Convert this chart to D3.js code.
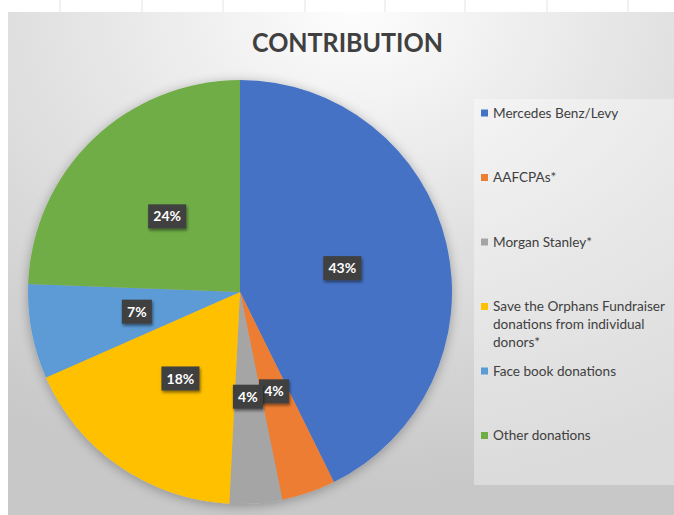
<!DOCTYPE html>
<html>
<head>
<meta charset="utf-8">
<script src="https://cdn.jsdelivr.net/npm/d3@7"></script>
<style>
  body { margin: 0; background: #fff; }
  svg { display: block; font-family: Lato, "Open Sans", sans-serif; }
</style>
</head>
<body>
<svg id="chart"></svg>
<script>
// chart data
const categories = ['Mercedes Benz/Levy', 'AAFCPAs*', 'Morgan Stanley*',
  'Save the Orphans Fundraiser donations from individual donors*',
  'Face book donations', 'Other donations'];
const values = [42.7, 4.1, 4.0, 17.6, 7.2, 24.4];
const labels = ['43%', '4%', '4%', '18%', '7%', '24%'];
const legendLines = [['Mercedes Benz/Levy'], ['AAFCPAs*'], ['Morgan Stanley*'],
  ['Save the Orphans Fundraiser', 'donations from individual', 'donors*'],
  ['Face book donations'], ['Other donations']];
const colors = ['#4472C4', '#ED7D31', '#A5A5A5', '#FFC000', '#5B9BD5', '#70AD47'];

const config = {
  width: 674, height: 515,
  area: {x: 8, y: 12},
  cx: 240, cy: 292, r: 212,
  legend: {x: 474, y: 99, w: 200, h: 386, slot: 64.5}
};

const svg = d3.select('#chart')
    .attr('width', config.width)
    .attr('height', config.height);

const defs = svg.append('defs');

// background gradient like the Excel chart area
const grad = defs.append('radialGradient')
    .attr('id', 'bg')
    .attr('cx', '52%').attr('cy', '0%').attr('r', '95%');
grad.append('stop').attr('offset', '0%').attr('stop-color', '#fdfdfd');
grad.append('stop').attr('offset', '45%').attr('stop-color', '#e4e4e4');
grad.append('stop').attr('offset', '100%').attr('stop-color', '#c8c8c8');

const shadow = defs.append('filter').attr('id', 'shadow')
    .attr('x', '-20%').attr('y', '-20%').attr('width', '140%').attr('height', '140%');
shadow.append('feGaussianBlur').attr('in', 'SourceAlpha').attr('stdDeviation', 6);
shadow.append('feOffset').attr('dx', 0).attr('dy', 2).attr('result', 'b');
shadow.append('feComponentTransfer').append('feFuncA').attr('type', 'linear').attr('slope', 0.3);
const merge = shadow.append('feMerge');
merge.append('feMergeNode');
merge.append('feMergeNode').attr('in', 'SourceGraphic');

const boxShadow = defs.append('filter').attr('id', 'boxShadow')
    .attr('x', '-30%').attr('y', '-30%').attr('width', '160%').attr('height', '160%');
boxShadow.append('feGaussianBlur').attr('in', 'SourceAlpha').attr('stdDeviation', 1.5);
boxShadow.append('feOffset').attr('dx', 1).attr('dy', 2);
boxShadow.append('feComponentTransfer').append('feFuncA').attr('type', 'linear').attr('slope', 0.5);
const merge2 = boxShadow.append('feMerge');
merge2.append('feMergeNode');
merge2.append('feMergeNode').attr('in', 'SourceGraphic');

// spreadsheet gridlines peeking above the chart
svg.append('g')
  .selectAll('line')
  .data([60, 142, 223, 305, 385, 465, 547, 628])
  .join('line')
    .attr('x1', d => d).attr('x2', d => d)
    .attr('y1', 0).attr('y2', config.area.y)
    .attr('stroke', '#e4e4e4');

svg.append('rect')
    .attr('x', config.area.x).attr('y', config.area.y)
    .attr('width', config.width - config.area.x)
    .attr('height', config.height - config.area.y)
    .attr('fill', 'url(#bg)');

// title
svg.append('text')
    .attr('x', 252).attr('y', 52)
    .attr('font-size', 27)
    .attr('font-weight', 'bold')
    .attr('fill', '#404040')
    .attr('textLength', 191)
    .attr('lengthAdjust', 'spacingAndGlyphs')
    .text('CONTRIBUTION');

// pie
const pie = d3.pie().sort(null).value(d => d);
const arcs = pie(values);
const arc = d3.arc().innerRadius(0).outerRadius(config.r);
const labelArc = d3.arc().innerRadius(105).outerRadius(105);

const chart = svg.append('g')
    .attr('transform', `translate(${config.cx},${config.cy})`);

chart.append('g')
    .attr('filter', 'url(#shadow)')
  .selectAll('path')
  .data(arcs)
  .join('path')
    .attr('d', arc)
    .attr('fill', (d, i) => colors[i]);

const lbl = chart.selectAll('.lbl')
  .data(arcs)
  .join('g')
    .attr('class', 'lbl')
    .attr('transform', d => `translate(${labelArc.centroid(d)})`);

lbl.append('rect')
    .attr('x', (d, i) => labels[i].length > 2 ? -19 : -15)
    .attr('y', -12)
    .attr('width', (d, i) => labels[i].length > 2 ? 38 : 30)
    .attr('height', 24)
    .attr('fill', '#404040')
    .attr('filter', 'url(#boxShadow)');

lbl.append('text')
    .attr('text-anchor', 'middle')
    .attr('dy', '0.36em')
    .attr('font-size', 14)
    .attr('font-weight', 'bold')
    .attr('fill', '#fff')
    .text((d, i) => labels[i]);

// legend
const L = config.legend;
svg.append('rect')
    .attr('x', L.x).attr('y', L.y)
    .attr('width', L.w).attr('height', L.h)
    .attr('fill', '#fff').attr('opacity', 0.35);

const item = svg.append('g')
  .selectAll('g')
  .data(categories)
  .join('g')
    .attr('transform', (d, i) => `translate(${L.x + 7},${L.y + 14 + i * L.slot})`);

item.append('rect')
    .attr('x', 0).attr('y', -3.5)
    .attr('width', 7).attr('height', 7)
    .attr('fill', (d, i) => colors[i]);

item.append('text')
    .attr('font-size', 13.6)
    .attr('fill', '#404040')
    .selectAll('tspan')
    .data((d, i) => legendLines[i])
    .join('tspan')
      .attr('x', 12)
      .attr('y', (d, j) => j * 18)
      .attr('dy', '0.35em')
      .text(d => d);
</script>
</body>
</html>
